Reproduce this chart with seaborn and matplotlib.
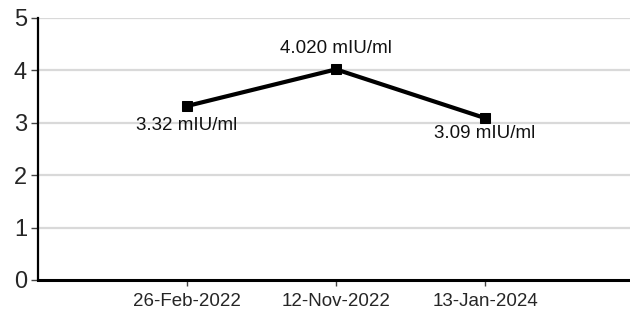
import matplotlib
matplotlib.use("Agg")
import matplotlib.pyplot as plt
import seaborn as sns
import numpy as np
import pandas as pd

# Test dates and measured values
dates = ["26-Feb-2022", "12-Nov-2022", "13-Jan-2024"]
values = [3.32, 4.020, 3.09]
value_labels = ["3.32 mIU/ml", "4.020 mIU/ml", "3.09 mIU/ml"]
y_ticks = [0, 1, 2, 3, 4, 5]

sns.set_theme(style="white")
plt.rcParams["font.family"] = ["Liberation Sans", "DejaVu Sans"]

positions = np.arange(1, len(dates) + 1)
df = pd.DataFrame({"pos": positions, "value": values, "date": dates})

fig = plt.figure(figsize=(6.3, 3.22), dpi=100)
ax = fig.add_axes([38 / 630, 1 - 280 / 322, 596 / 630, (280 - 18) / 322])

ax.set_axisbelow(True)
for yv in y_ticks[1:]:
    ax.axhline(yv, color="#d9d9d9", lw=1.6, zorder=0)

sns.lineplot(data=df, x="pos", y="value", ax=ax, color="black", lw=3,
             marker="s", markersize=7, markeredgecolor="black", zorder=3)

# label offsets in points (below, above, below)
offsets = [-14, 15, -11]
for x, v, lab, dy in zip(positions, values, value_labels, offsets):
    ax.annotate(lab, (x, v), xytext=(0, dy), textcoords="offset points",
                ha="center", va="center", fontsize=13.5, color="#111111")

ax.set_xlim(0, 4)
ax.set_ylim(0, 5)
ax.set_xticks(positions)
ax.set_xticklabels(dates, fontsize=13.5)
ax.set_yticks(y_ticks)
ax.set_yticklabels([str(t) for t in y_ticks], fontsize=17)
ax.set_xlabel("")
ax.set_ylabel("")

for s in ["top", "right"]:
    ax.spines[s].set_visible(False)
ax.spines["left"].set_color("black")
ax.spines["left"].set_linewidth(1.6)
ax.spines["bottom"].set_color("black")
ax.spines["bottom"].set_linewidth(2.2)
ax.tick_params(axis="y", length=5, width=1, color="#444444", pad=3, left=True)
ax.tick_params(axis="x", length=4, width=1, color="#444444", pad=5, bottom=True)

fig.savefig("out.png", dpi=100)
